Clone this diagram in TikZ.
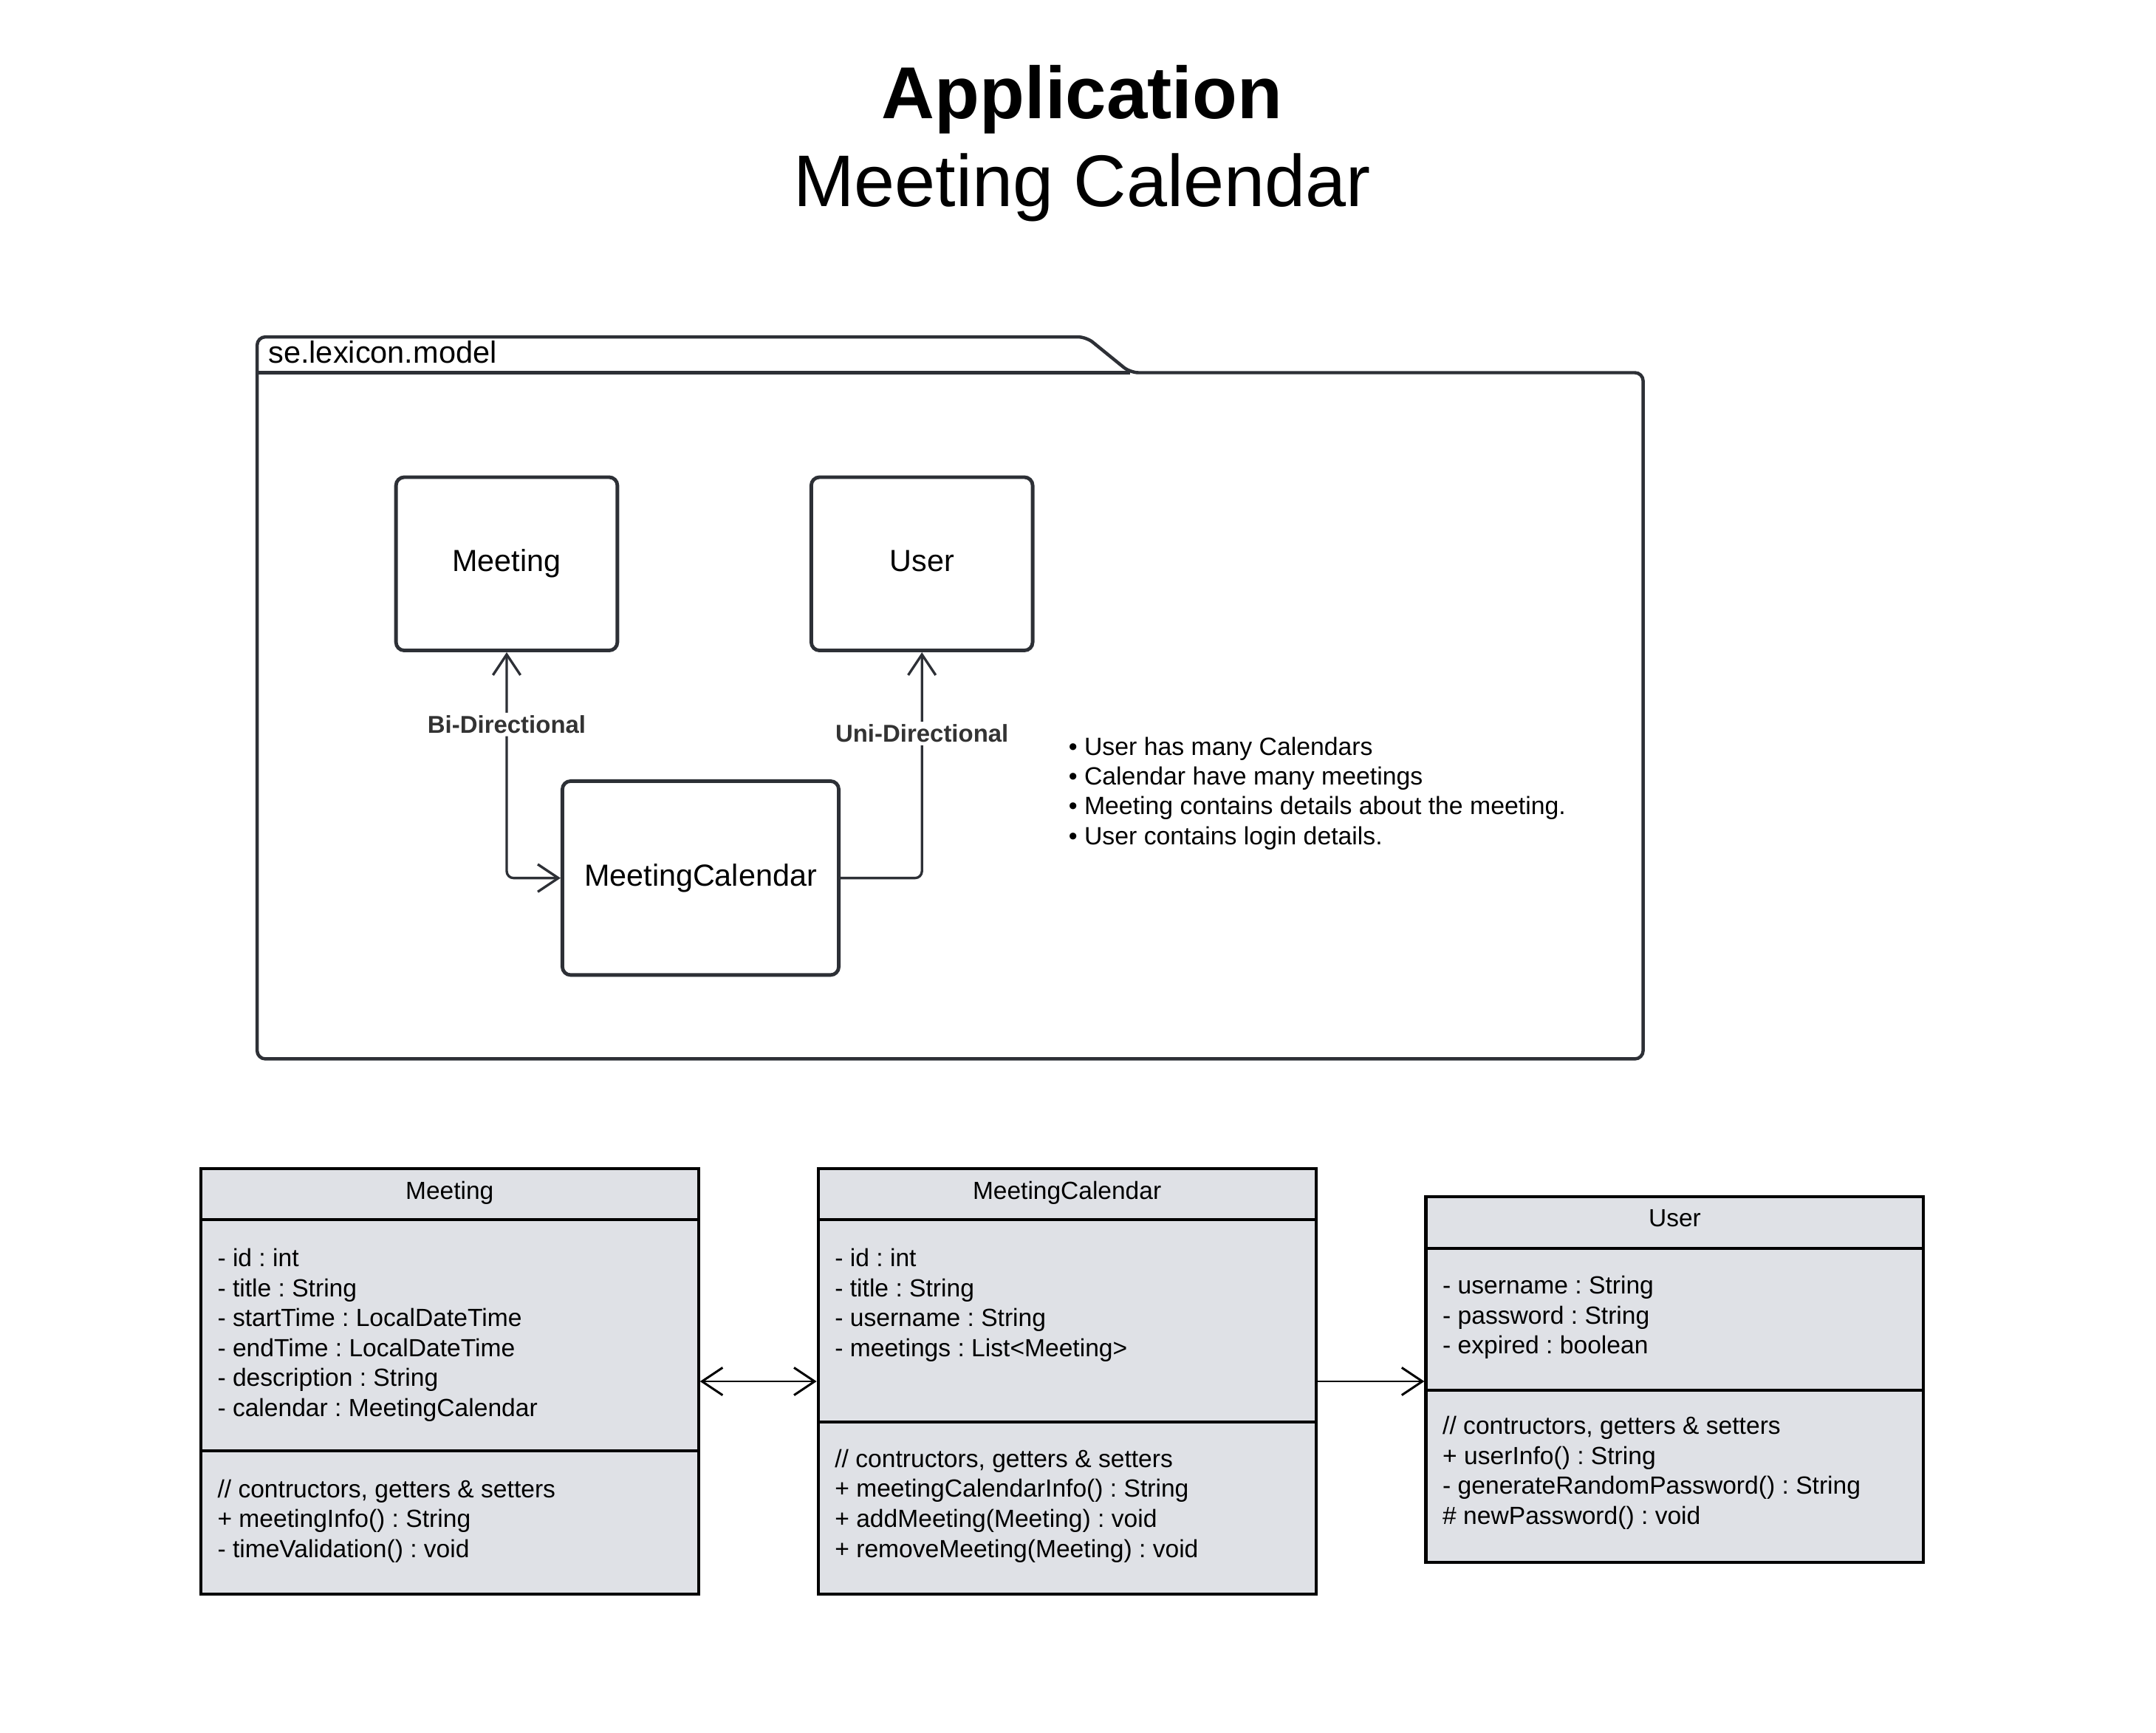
\documentclass[tikz,border=0pt]{standalone}
\usepackage{fontspec}
\setmainfont{Liberation Sans}
\usetikzlibrary{arrows.meta}
\definecolor{pkg}{RGB}{45,48,54}
\definecolor{clsfill}{RGB}{223,225,230}
\definecolor{lblc}{RGB}{51,51,51}
\newcommand{\fsz}[1]{\fontsize{#1}{#1}\selectfont}
\tikzset{vtip/.tip={Straight Barb[length=15pt,width=20pt]}}
\frenchspacing
\begin{document}
\begin{tikzpicture}[x=1pt,y=-1pt,
  pkgline/.style={draw=pkg, line width=2.4pt, rounded corners=6pt},
  box/.style={draw=pkg, line width=2.6pt, rounded corners=6pt, minimum width=161pt, minimum height=126pt, inner sep=0pt, text height=16pt, text depth=4.7pt, font=\fsz{22.2}},
  conn/.style={draw=pkg, line width=1.8pt, rounded corners=5pt},
  lbl/.style={fill=white, inner sep=2pt, text=lblc, font=\bfseries\fsz{17.7}},
  cls/.style={draw=black, fill=clsfill, line width=2.2pt, inner sep=0pt},
  clsline/.style={draw=black, line width=2.2pt},
  head/.style={anchor=base, inner sep=0pt, font=\fsz{18}},
  attr/.style={anchor=base west, inner sep=0pt, font=\fsz{18.05}},
  note/.style={anchor=base west, inner sep=0pt, font=\fsz{18.15}},
  carrow/.style={draw=black, line width=1.6pt}
]
\useasboundingbox (0,0) rectangle (1568,1260.2);

% titles
\node[anchor=base, inner sep=0pt, font=\bfseries\fsz{53.5}] (t1) at (787,86) {Application};
\node[anchor=base, inner sep=0pt, font=\fsz{53.2}] (t2) at (787,150) {Meeting Calendar};

% package
\draw[pkgline] (187,271) -- (187,245) -- (790,245) -- (822,271) -- (1195,271) -- (1195,770) -- (187,770) -- cycle;
\draw[draw=pkg, line width=2.4pt] (187,271) -- (822,271);
\node[anchor=base west, inner sep=0pt, font=\fsz{22.3}] (pkglbl) at (195,264) {se.lexicon.model};

% boxes
\node[box] (mbox) at (368.5,410) {Meeting};
\node[box] (ubox) at (670.5,410) {User};
\node[box, minimum width=201pt, minimum height=141pt] (mcbox) at (509.5,638.5) {MeetingCalendar};

% connectors
\draw[conn, {vtip}-{vtip}] (mcbox.west) -| (mbox.south) node[lbl, pos=0.84] (bilbl) {Bi-Directional};
\draw[conn, -{vtip}] (mcbox.east) -| (ubox.south) node[lbl, pos=0.82] (unilbl) {Uni-Directional};

% notes
\foreach \t [count=\i] in {User has many Calendars, Calendar have many meetings, Meeting contains details about the meeting., User contains login details.}
  \node[note] (b\i) at (777,{549+21.7*(\i-1)}) {\textbullet\ \t};

% class Meeting
\node[cls, minimum width=362pt, minimum height=309pt] (mcls) at (327,1004.5) {};
\draw[clsline] (146,887) -- (508,887);
\draw[clsline] (146,1055) -- (508,1055);
\node[head] (mhead) at (327,872) {Meeting};
\foreach \t [count=\i] in {- id : int, - title : String, - startTime : LocalDateTime, - endTime : LocalDateTime, - description : String, - calendar : MeetingCalendar}
  \node[attr] (ma\i) at (158,{921+21.8*(\i-1)}) {\t};
\foreach \t [count=\i] in {{// contructors, getters \& setters}, + meetingInfo() : String, - timeValidation() : void}
  \node[attr] (mm\i) at (158,{1089+21.8*(\i-1)}) {\t};

% class MeetingCalendar
\node[cls, minimum width=362pt, minimum height=309pt] (mccls) at (776,1004.5) {};
\draw[clsline] (595,887) -- (957,887);
\draw[clsline] (595,1034) -- (957,1034);
\node[head] (mchead) at (776,872) {MeetingCalendar};
\foreach \t [count=\i] in {- id : int, - title : String, - username : String, - meetings : List<Meeting>}
  \node[attr] (mca\i) at (607,{921+21.8*(\i-1)}) {\t};
\foreach \t [count=\i] in {{// contructors, getters \& setters}, + meetingCalendarInfo() : String, + addMeeting(Meeting) : void, + removeMeeting(Meeting) : void}
  \node[attr] (mcm\i) at (607,{1067+21.8*(\i-1)}) {\t};

% class User
\node[cls, minimum width=362pt, minimum height=266pt] (ucls) at (1218,1003) {};
\draw[clsline] (1037,908) -- (1399,908);
\draw[clsline] (1037,1011) -- (1399,1011);
\node[head] (uhead) at (1218,892) {User};
\foreach \t [count=\i] in {- username : String, - password : String, - expired : boolean}
  \node[attr] (ua\i) at (1049,{941+21.8*(\i-1)}) {\t};
\foreach \t [count=\i] in {{// contructors, getters \& setters}, + userInfo() : String, - generateRandomPassword() : String, \# newPassword() : void}
  \node[attr] (um\i) at (1049,{1043+21.8*(\i-1)}) {\t};

% class connectors
\draw[carrow, {vtip}-{vtip}] (mcls.east) -- (mccls.west);
\draw[carrow, -{vtip}] (mccls.east) -- (ucls.west |- mccls.east);
\end{tikzpicture}
\end{document}
